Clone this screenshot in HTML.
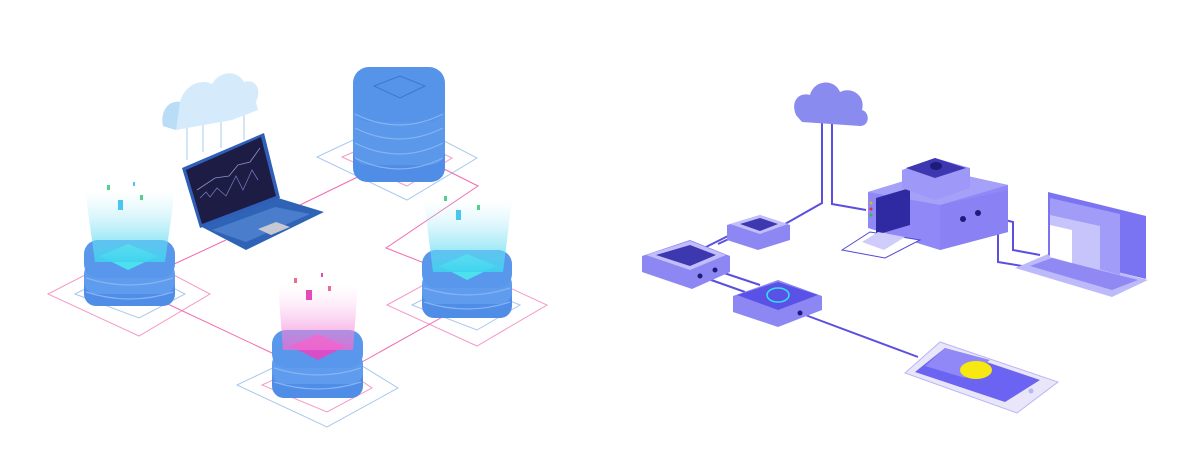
<!DOCTYPE html>
<html><head><meta charset="utf-8"><style>
html,body{margin:0;padding:0;background:#fff;width:1200px;height:469px;overflow:hidden}
</style></head><body>
<svg width="1200" height="469" viewBox="0 0 1200 469" xmlns="http://www.w3.org/2000/svg">
<defs>
<linearGradient id="beamC" x1="0" y1="1" x2="0" y2="0"><stop offset="0" stop-color="#3fd3ef" stop-opacity=".9"/><stop offset="1" stop-color="#bdeefa" stop-opacity="0"/></linearGradient>
<linearGradient id="beamP" x1="0" y1="1" x2="0" y2="0"><stop offset="0" stop-color="#f06ad0" stop-opacity=".8"/><stop offset="1" stop-color="#fbd0f0" stop-opacity="0"/></linearGradient>
</defs>
<g fill="none" stroke-width="1">
<polygon points="48,294 130,252 210,294 139,336" stroke="#f49ac8"/>
<polygon points="75,294 130,266 185,294 139,318" stroke="#a9c8ef"/>
<polygon points="237,385 325,343 398,388 327,427" stroke="#a9c8ef"/>
<polygon points="262,385 325,356 372,388 327,412" stroke="#f49ac8"/>
<polygon points="387,305 460,265 547,305 477,346" stroke="#f49ac8"/>
<polygon points="412,305 460,280 520,305 477,330" stroke="#a9c8ef"/>
<polygon points="317,157 400,118 477,158 407,200" stroke="#a9c8ef"/>
<polygon points="342,157 400,132 452,158 407,186" stroke="#f49ac8"/>
</g>
<g fill="none" stroke="#f26bb0" stroke-width="1">
<polyline points="172,265 226,240"/>
<polyline points="300,205 372,170"/>
<polyline points="436,165 478,186 386,248 432,266"/>
<polyline points="155,298 272,353"/>
<polyline points="362,362 455,310"/>
</g>
<g stroke="#a9cdee" stroke-width="1"><line x1="187" y1="125" x2="187" y2="160"/><line x1="203" y1="125" x2="203" y2="152"/><line x1="221" y1="122" x2="221" y2="148"/><line x1="244" y1="115" x2="244" y2="140"/></g>
<path d="M163,126 C160,112 168,100 180,102 C184,86 200,78 212,84 C220,70 238,70 244,82 C256,78 262,90 256,102 L258,110 L232,120 L176,130 Z" fill="#d5ebfb"/>
<path d="M163,126 C160,112 168,100 180,102 L176,130 Z" fill="#b9dcf7"/>
<polygon points="200,226 278,198 324,212 246,250" fill="#2e63b6"/>
<polygon points="212,230 275,207 310,214 246,242" fill="#5d8fd8" opacity=".6"/>
<polygon points="258,229 276,222 290,227 271,235" fill="#c8c8d2"/>
<polygon points="182,168 264,133 280,198 200,228" fill="#2f5fb8"/>
<polygon points="186,170 261,137 276,196 202,224" fill="#1d1c44"/>
<polyline points="197,190 215,178 229,176 238,165 250,162 260,148" fill="none" stroke="#8d92c8" stroke-width=".8"/>
<polyline points="200,198 206,192 210,197 217,188 226,196 236,176 243,190 252,170 258,180" fill="none" stroke="#6f74b8" stroke-width=".8"/>
<g>
<rect x="353" y="135" width="92" height="47" rx="14" fill="#4f8de6"/>
<rect x="353" y="120" width="92" height="45" rx="14" fill="#5b98ea"/>
<rect x="353" y="105" width="92" height="45" rx="14" fill="#5b98ea"/>
<rect x="353" y="90" width="92" height="45" rx="14" fill="#5b98ea"/>
<rect x="353" y="67" width="92" height="55" rx="16" fill="#5694ea"/>
<g stroke="#86b4f2" stroke-width="1.2" fill="none"><path d="M355,128 Q399,150 443,128"/><path d="M355,143 Q399,165 443,143"/><path d="M355,158 Q399,180 443,158"/><path d="M355,114 Q399,136 443,114"/></g>
<polygon points="374,86 400,76 425,86 400,98" fill="none" stroke="#3c76d0"/>
</g>
<rect x="84" y="272" width="91" height="34" rx="12" fill="#4f8de6"/>
<rect x="84" y="262" width="91" height="32" rx="12" fill="#5f9cee"/>
<rect x="84" y="240" width="91" height="38" rx="14" fill="#5897eb"/>
<g stroke="#86b4f2" stroke-width="1.2" fill="none"><path d="M86,278 Q130,292 173,278"/><path d="M86,292 Q130,306 173,292"/></g>
<polygon points="100,256 128,244 158,256 128,270" fill="#4de0ee"/>
<polygon points="95,262 165,262 175,190 85,190" fill="url(#beamC)"/>
<rect x="272" y="362" width="91" height="36" rx="12" fill="#4f8de6"/>
<rect x="272" y="352" width="91" height="32" rx="12" fill="#5f9cee"/>
<rect x="272" y="330" width="91" height="38" rx="14" fill="#5897eb"/>
<g stroke="#86b4f2" stroke-width="1.2" fill="none"><path d="M274,368 Q318,382 361,368"/><path d="M274,382 Q318,396 361,382"/></g>
<polygon points="290,346 318,334 346,346 318,360" fill="#d94ec6"/>
<polygon points="283,350 353,350 358,285 278,285" fill="url(#beamP)"/>
<rect x="422" y="282" width="90" height="36" rx="12" fill="#4f8de6"/>
<rect x="422" y="272" width="90" height="32" rx="12" fill="#5f9cee"/>
<rect x="422" y="250" width="90" height="38" rx="14" fill="#5897eb"/>
<g stroke="#86b4f2" stroke-width="1.2" fill="none"><path d="M424,288 Q467,302 510,288"/><path d="M424,302 Q467,316 510,302"/></g>
<polygon points="440,266 467,254 496,266 467,280" fill="#4de0ee"/>
<polygon points="433,272 503,272 512,200 424,200" fill="url(#beamC)"/>
<g><rect x="118" y="200" width="5" height="10" fill="#48c6f0"/><rect x="107" y="185" width="3" height="5" fill="#55d08a"/><rect x="140" y="195" width="3" height="5" fill="#55d08a"/><rect x="133" y="182" width="2" height="4" fill="#48c6f0"/>
<rect x="456" y="210" width="5" height="10" fill="#48c6f0"/><rect x="444" y="196" width="3" height="5" fill="#55d08a"/><rect x="477" y="205" width="3" height="5" fill="#55d08a"/>
<rect x="306" y="290" width="6" height="10" fill="#e24ab8"/><rect x="294" y="278" width="3" height="5" fill="#f06a8a"/><rect x="328" y="286" width="3" height="5" fill="#f06a8a"/><rect x="321" y="273" width="2" height="4" fill="#e24ab8"/></g>

<g fill="none" stroke="#5b4fe0" stroke-width="2">
<polyline points="822,120 822,203 778,228"/>
<polyline points="832,120 832,204 866,210"/>
<polyline points="700,250 736,232"/>
<polyline points="718,244 748,230"/>
<polyline points="700,276 745,292"/>
<polyline points="715,270 760,285"/>
<polyline points="800,313 918,357"/>
<polyline points="978,213 1013,222 1013,250 1040,255"/>
<polyline points="963,219 998,228 998,262 1022,266"/>
</g>
<path d="M796,115 C790,100 800,92 810,95 C814,80 834,78 840,92 C852,86 866,96 862,110 C870,112 870,126 860,126 L802,122 Z" fill="#8a8bef"/>
<polygon points="868,192 940,170 1008,185 1008,232 940,250 868,228" fill="#8f88f6"/>
<polygon points="940,205 1008,190 1008,232 940,250" fill="#8a82f4"/>
<polygon points="868,192 940,170 1008,185 940,205" fill="#a5a0f8"/>
<polygon points="876,198 910,188 910,225 876,235" fill="#2f2aa2"/>
<polygon points="902,170 935,158 970,168 970,188 935,200 902,188" fill="#9e98f8"/>
<polygon points="906,168 935,158 966,168 935,178" fill="#3d37b0"/>
<ellipse cx="936" cy="166" rx="6" ry="4" fill="#1f1b7a"/>
<circle cx="871" cy="203" r="1.5" fill="#e4b020"/><circle cx="871" cy="209" r="1.5" fill="#e03030"/><circle cx="871" cy="215" r="1.5" fill="#30c040"/>
<polygon points="842,250 870,232 920,240 885,258" fill="#fff" stroke="#4f48d8" stroke-width="1"/>
<polygon points="862,242 878,232 905,237 884,250" fill="#cfcbfb"/>
<circle cx="963" cy="219" r="3" fill="#1f1b7a"/><circle cx="978" cy="213" r="3" fill="#1f1b7a"/>
<polygon points="1015,268 1048,254 1148,280 1112,297" fill="#bdbafb"/>
<polygon points="1030,266 1052,258 1138,280 1112,290" fill="#7d75f0" opacity=".7"/>
<polygon points="1048,192 1146,216 1146,279 1048,255" fill="#7b74f2"/>
<polygon points="1050,198 1120,214 1120,275 1050,255" fill="#a19cf8"/>
<polygon points="1050,215 1100,226 1100,270 1050,257" fill="#c7c4fb"/>
<polygon points="1050,225 1072,230 1072,263 1050,257" fill="#fff"/>
<polygon points="727,225 760,215 790,225 790,240 758,250 727,240" fill="#8d87f4"/>
<polygon points="730,224 760,215 788,224 760,234" fill="#c2befb"/>
<polygon points="740,224 760,218 778,224 760,231" fill="#3d37b0"/>
<polygon points="642,256 690,240 730,256 730,272 692,289 642,272" fill="#8d87f4"/>
<polygon points="646,255 690,241 726,255 690,270" fill="#c2befb"/>
<polygon points="656,255 690,245 716,255 690,266" fill="#3d37b0"/>
<circle cx="700" cy="276" r="2.5" fill="#1f1b7a"/><circle cx="715" cy="270" r="2.5" fill="#1f1b7a"/>
<polygon points="733,296 778,280 822,296 822,310 778,327 733,312" fill="#8d87f4"/>
<polygon points="737,295 778,282 818,295 778,310" fill="#5a52e6"/>
<ellipse cx="778" cy="295" rx="11" ry="7" fill="none" stroke="#2ee6f0" stroke-width="1.5"/>
<circle cx="800" cy="313" r="2.5" fill="#1f1b7a"/>
<polygon points="905,373 940,342 1058,382 1017,413" fill="#e8e6f8" stroke="#b9b4f6"/>
<polygon points="915,372 945,348 1040,380 1005,402" fill="#6b63f2"/>
<polygon points="945,348 990,360 965,378 925,366" fill="#8f88f6"/>
<ellipse cx="976" cy="370" rx="16" ry="9" fill="#f6e810"/>
<circle cx="1031" cy="391" r="2.5" fill="#b9b4f6"/>
</svg>
</body></html>
